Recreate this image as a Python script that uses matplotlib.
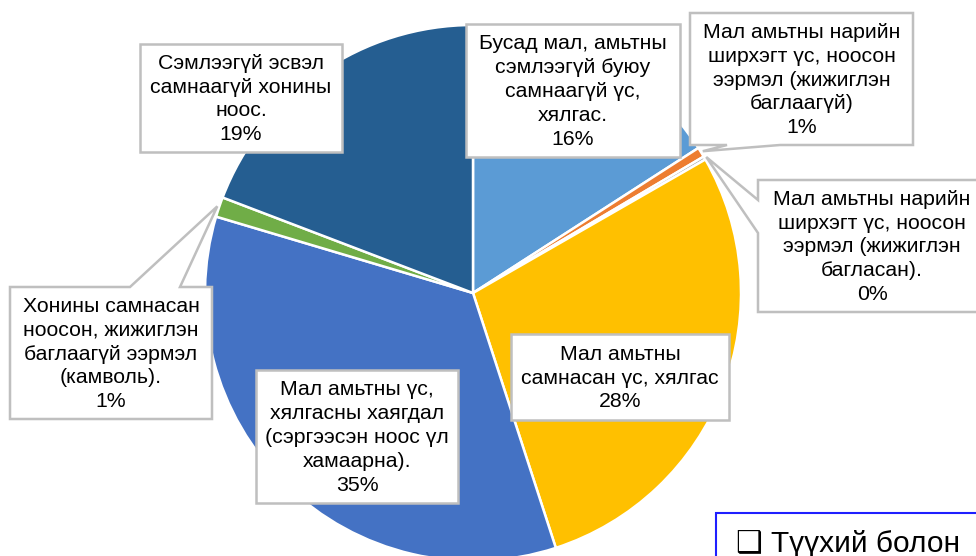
import numpy as np
import matplotlib.pyplot as plt
from matplotlib.patches import Polygon, Rectangle

# Данные диаграммы
names = [
    "Бусад мал, амьтны\nсэмлээгүй буюу\nсамнаагүй үс,\nхялгас.",
    "Мал амьтны нарийн\nширхэгт үс, ноосон\nээрмэл (жижиглэн\nбаглаагүй)",
    "Мал амьтны нарийн\nширхэгт үс, ноосон\nээрмэл (жижиглэн\nбагласан).",
    "Мал амьтны\nсамнасан үс, хялгас",
    "Мал амьтны үс,\nхялгасны хаягдал\n(сэргээсэн ноос үл\nхамаарна).",
    "Хонины самнасан\nноосон, жижиглэн\nбаглаагүй ээрмэл\n(камволь).",
    "Сэмлээгүй эсвэл\nсамнаагүй хонины\nноос.",
]
values = [15.9, 0.6, 0.2, 28.3, 34.6, 1.2, 19.2]
colors = ["#5B9BD5", "#ED7D31", "#A5A5A5", "#FFC000", "#4472C4", "#70AD47", "#255E91"]
note_text = "\u2751 Түүхий болон"

W, H = 976, 556
FONT = ["Liberation Sans", "DejaVu Sans"]
plt.rcParams["font.family"] = FONT

fig = plt.figure(figsize=(W / 100, H / 100), dpi=100)
ax = fig.add_axes([0, 0, 1, 1])

cx, cy, R = 473, H - 293, 268
wedges, _ = ax.pie(values, colors=colors, startangle=90, counterclock=False,
                   center=(cx, cy), radius=R, frame=True,
                   wedgeprops=dict(edgecolor="white", linewidth=1.8))
ax.set_xlim(0, W)
ax.set_ylim(0, H)
ax.axis("off")


def tip_of(w, extra=2):
    ang = np.deg2rad((w.theta1 + w.theta2) / 2)
    return (cx + (R + extra) * np.cos(ang), cy + (R + extra) * np.sin(ang))


def callout(box, text, notch=None):
    # box в координатах картинки (x0, y0, x1, y1), y вниз
    x0, y0, x1, y1 = box
    pts = [(x0, y0), (x1, y0), (x1, y1), (x0, y1)]
    if notch is not None:
        side, a, b, tip = notch
        tipi = (tip[0], H - tip[1])
        if side == "bottom":
            pts = [(x0, y0), (x1, y0), (x1, y1), (b, y1), tipi, (a, y1), (x0, y1)]
        elif side == "top":
            pts = [(x0, y0), (a, y0), tipi, (b, y0), (x1, y0), (x1, y1), (x0, y1)]
        elif side == "left":
            pts = [(x0, y0), (x1, y0), (x1, y1), (x0, y1), (x0, b), tipi, (x0, a)]
    pts = [(x, H - y) for x, y in pts]
    ax.add_patch(Polygon(pts, closed=True, facecolor="white", edgecolor="#BFBFBF",
                         linewidth=1.8, zorder=5))
    ax.text((x0 + x1) / 2, H - (y0 + y1) / 2 - 1, text, ha="center", va="center",
            fontsize=15.3, linespacing=1.32, color="black", zorder=6)


labels = [n + "\n" + f"{v:.0f}%" for n, v in zip(names, values)]

callout((466, 24, 680, 157), labels[0])
callout((690, 13, 913, 145), labels[1], ("bottom", 727, 780, tip_of(wedges[1])))
callout((758, 180, 986, 312), labels[2], ("left", 200, 233, tip_of(wedges[2])))
callout((511, 334, 729, 420), labels[3])
callout((256, 370, 458, 503), labels[4])
callout((10, 287, 212, 419), labels[5], ("top", 130, 180, tip_of(wedges[5])))
callout((140, 44, 342, 152), labels[6])

# Синяя рамка внизу справа
ax.add_patch(Rectangle((716, -10), 300, H - 513 + 10, facecolor="white",
                       edgecolor="#1F1FFF", linewidth=1.5, zorder=5))
ax.text(736, H - 552, note_text, ha="left", va="baseline", fontsize=21.5,
        color="black", zorder=6)

fig.savefig("out.png", dpi=100)
